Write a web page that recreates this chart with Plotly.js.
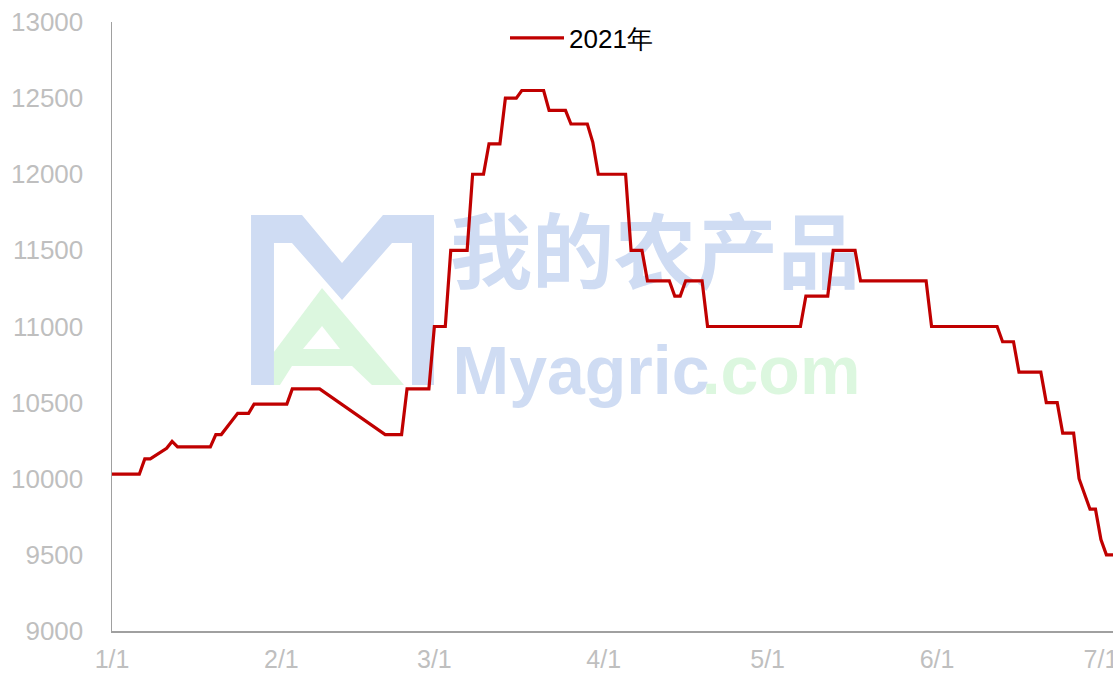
<!DOCTYPE html>
<html>
<head>
<meta charset="utf-8">
<script src="https://cdn.plot.ly/plotly-3.0.1.min.js"></script>
<style>html,body{margin:0;padding:0;background:#fff;}#chart{width:1113px;height:675px;}</style>
</head>
<body>
<div id="chart"></div>
<script>
// ---- data ----
const seriesName = '2021年';
const dates = ['2021-01-01','2021-01-06','2021-01-07','2021-01-08','2021-01-11','2021-01-12','2021-01-13','2021-01-19','2021-01-20','2021-01-21','2021-01-24','2021-01-26','2021-01-27','2021-02-02','2021-02-03','2021-02-08','2021-02-20','2021-02-23','2021-02-24','2021-02-28','2021-03-01','2021-03-03','2021-03-04','2021-03-07','2021-03-08','2021-03-10','2021-03-11','2021-03-13','2021-03-14','2021-03-16','2021-03-17','2021-03-21','2021-03-22','2021-03-25','2021-03-26','2021-03-29','2021-03-30','2021-03-31','2021-04-05','2021-04-06','2021-04-08','2021-04-09','2021-04-13','2021-04-14','2021-04-15','2021-04-16','2021-04-19','2021-04-20','2021-05-07','2021-05-08','2021-05-12','2021-05-13','2021-05-17','2021-05-18','2021-05-30','2021-05-31','2021-06-12','2021-06-13','2021-06-15','2021-06-16','2021-06-20','2021-06-21','2021-06-23','2021-06-24','2021-06-26','2021-06-27','2021-06-28','2021-06-29','2021-06-30','2021-07-01','2021-07-02','2021-07-03','2021-07-04'];
const prices = [10030,10030,10130,10130,10200,10245,10210,10210,10290,10290,10430,10430,10490,10490,10590,10590,10290,10290,10590,10590,11000,11000,11500,11500,12000,12000,12200,12200,12500,12500,12550,12550,12420,12420,12330,12330,12210,12000,12000,11500,11500,11300,11300,11200,11200,11300,11300,11000,11000,11200,11200,11500,11500,11300,11300,11000,11000,10900,10900,10700,10700,10500,10500,10300,10300,10000,9900,9800,9800,9600,9500,9500,9500];
const yTicks = [9000,9500,10000,10500,11000,11500,12000,12500,13000];
const xTickFormat = '%-m/%-d';
const watermarkCN = '我的农产品';
const watermarkEN1 = 'Myagric';
const watermarkEN2 = '.com';

// ---- layout helpers (pixel -> paper) ----
const L = 112, R = 1113, T = 22, B = 631;
const px = x => (x - L) / (R - L);
const py = y => (B - y) / (B - T);
const pt = (x, y) => px(x).toFixed(4) + ',' + py(y).toFixed(4);
const poly = arr => 'M' + arr.map(p => pt(p[0], p[1])).join('L') + 'Z';

const blue = '#cfdcf3', green = '#dcf7df';
const shapes = [
  {type:'path', xref:'paper', yref:'paper', layer:'below', fillcolor:blue, line:{width:0},
   path: poly([[251,215],[302,215],[342,263],[383,215],[434,215],[434,385],[412,385],[412,243],[392,243],[342,300],[292,243],[274,243],[274,385],[251,385]])},
  {type:'path', xref:'paper', yref:'paper', layer:'below', fillcolor:green, line:{width:0},
   path: poly([[322,288],[404,385],[372,385],[352,366],[292,366],[280,385],[274,385],[274,352]])},
  {type:'path', xref:'paper', yref:'paper', layer:'below', fillcolor:'#ffffff', line:{width:0},
   path: poly([[322,326],[303,349],[340,349]])},
  {type:'rect', xref:'paper', yref:'paper', layer:'below', x0:px(450), x1:px(860), y0:py(312), y1:py(206),
   line:{width:0}, fillcolor:'rgba(0,0,0,0)',
   label:{text:watermarkCN, textposition:'middle center', font:{family:'Noto Sans CJK SC', size:82, color:blue, weight:'bold'}}},
  {type:'rect', xref:'paper', yref:'paper', layer:'below', x0:px(455), x1:px(707), y0:py(410), y1:py(318),
   line:{width:0}, fillcolor:'rgba(0,0,0,0)',
   label:{text:watermarkEN1, textposition:'middle center', font:{family:'Liberation Sans, Arial, sans-serif', size:68, color:blue, weight:'bold'}}},
  {type:'rect', xref:'paper', yref:'paper', layer:'below', x0:px(702), x1:px(860), y0:py(410), y1:py(318),
   line:{width:0}, fillcolor:'rgba(0,0,0,0)',
   label:{text:watermarkEN2, textposition:'middle center', font:{family:'Liberation Sans, Arial, sans-serif', size:68, color:green, weight:'bold'}}}
];

const trace = {
  type:'scatter', mode:'lines', name: seriesName,
  x: dates, y: prices,
  line:{color:'#c00000', width:3.2}
};

const axisFont = {family:'Liberation Sans, Arial, sans-serif', size:26, color:'#bfbfbf'};
const xFont = {family:'Liberation Sans, Arial, sans-serif', size:25, color:'#bfbfbf'};
const layout = {
  width:1113, height:675,
  margin:{l:L, r:1113-R, t:T, b:675-B, pad:0},
  paper_bgcolor:'#ffffff', plot_bgcolor:'rgba(0,0,0,0)',
  showlegend:true,
  legend:{orientation:'h', x:px(505), xanchor:'left', y:py(38), yanchor:'middle',
          font:{family:'Liberation Sans, Arial, sans-serif', size:26, color:'#000000'},
          bgcolor:'rgba(0,0,0,0)', itemwidth:54},
  xaxis:{type:'date', range:['2021-01-01','2021-07-03 05:00'], dtick:'M1', tick0:'2021-01-01',
         tickformat:xTickFormat, showgrid:false, zeroline:false, showline:true,
         linecolor:'#a0a0a0', linewidth:1.5, ticks:'', tickfont:xFont, ticklabelstandoff:5,
         ticklabeloverflow:'allow', fixedrange:true},
  yaxis:{range:[9000,13000], tickvals:yTicks, tickformat:'d', showgrid:false, zeroline:false, showline:true,
         linecolor:'#a0a0a0', linewidth:1.5, ticks:'', tickfont:axisFont, ticklabelstandoff:22,
         fixedrange:true},
  shapes: shapes
};

Plotly.newPlot('chart', [trace], layout, {displayModeBar:false, staticPlot:true});
</script>
</body>
</html>
